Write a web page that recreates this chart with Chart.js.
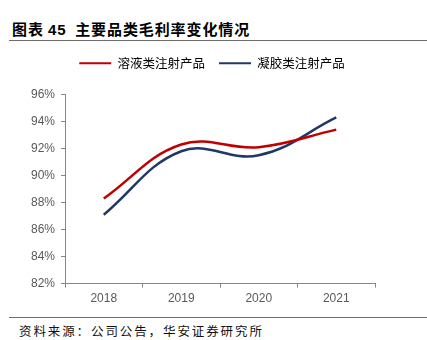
<!DOCTYPE html>
<html>
<head>
<meta charset="utf-8">
<script src="https://cdn.jsdelivr.net/npm/chart.js@4"></script>
<style>
  html, body { margin:0; padding:0; background:#fff; }
  body { width:427px; height:340px; position:relative; overflow:hidden; font-family:"Noto Sans CJK SC", sans-serif; }
  #title { position:absolute; left:12px; top:18px; font-size:15px; font-weight:bold; color:#000; white-space:nowrap; letter-spacing:0.9px; }
  #title .num { font-family:"Liberation Sans", Arial, sans-serif; }
  #rule1 { position:absolute; left:9px; right:0; top:40px; height:0; border-top:1.5px solid #6e6e6e; }
  #rule2 { position:absolute; left:9px; right:0; top:317px; height:0; border-top:1.5px solid #6e6e6e; }
  #foot { position:absolute; left:19px; top:321px; font-size:12.5px; color:#111; white-space:nowrap; letter-spacing:1.9px; }
  #wrap { position:absolute; left:0; top:43px; width:427px; height:267px; }
</style>
</head>
<body>
<div id="title">图表 <span class="num">45</span>&nbsp; 主要品类毛利率变化情况</div>
<div id="rule1"></div>
<div id="wrap"><canvas id="c"></canvas></div>
<div id="rule2"></div>
<div id="foot">资料来源：公司公告，华安证券研究所</div>
<script>
const categories = ["2018", "2019", "2020", "2021"];
const solutionSeries = [88.3, 92.3, 92.1, 93.4];
const gelSeries = [87.1, 91.8, 91.5, 94.3];
const seriesNames = ["溶液类注射产品", "凝胶类注射产品"];
const yTicks = [82, 84, 86, 88, 90, 92, 94, 96];

const legendTweak = {
  id: 'legendTweak',
  beforeInit(chart) {
    const lg = chart.legend;
    if (!lg) return;
    const origFit = lg.fit.bind(lg);
    lg.fit = function () { origFit(); this.height += 15; };
  },
  afterLayout(chart) {
    const lg = chart.legend;
    if (!lg) return;
    const d = 212 - (lg.left + lg.right) / 2;
    lg.left += d; lg.right += d;
    if (lg.legendHitBoxes) lg.legendHitBoxes.forEach(b => { b.left += d; });
  }
};

new Chart(document.getElementById('c'), {
  type: 'line',
  data: {
    labels: categories,
    datasets: [
      { label: seriesNames[0], data: solutionSeries, borderColor: '#c00000', backgroundColor: '#c00000', borderWidth: 2.5, pointRadius: 0, tension: 0.4, fill: false },
      { label: seriesNames[1], data: gelSeries, borderColor: '#203864', backgroundColor: '#203864', borderWidth: 2.5, pointRadius: 0, tension: 0.4, fill: false }
    ]
  },
  plugins: [legendTweak],
  options: {
    responsive: true,
    maintainAspectRatio: false,
    animation: false,
    devicePixelRatio: 1,
    layout: { padding: { left: 25, right: 52, top: 0, bottom: 0 } },
    plugins: {
      legend: {
        position: 'top',
        labels: {
          boxWidth: 32, boxHeight: 2, padding: 14,
          color: '#808080',
          font: { family: '"Noto Sans CJK SC", sans-serif', size: 12.5 },
          generateLabels: (chart) => chart.data.datasets.map((d, i) => ({
            text: d.label, fillStyle: d.borderColor, strokeStyle: d.borderColor, lineWidth: 0, datasetIndex: i, hidden: false
          }))
        }
      },
      tooltip: { enabled: false }
    },
    scales: {
      x: {
        type: 'category',
        offset: true,
        grid: { offset: true, drawOnChartArea: false, drawTicks: true, tickLength: 4, color: '#868686' },
        border: { color: '#868686', width: 1 },
        ticks: { color: '#595959', font: { family: '"Liberation Sans", Arial, sans-serif', size: 12 }, padding: 4 }
      },
      y: {
        min: yTicks[0], max: yTicks[yTicks.length - 1],
        afterBuildTicks: (axis) => { axis.ticks = yTicks.map(v => ({ value: v })); },
        grid: { drawOnChartArea: false, drawTicks: true, tickLength: 4, color: '#868686' },
        border: { color: '#868686', width: 1 },
        ticks: { color: '#595959', font: { family: '"Liberation Sans", Arial, sans-serif', size: 12 }, padding: 6, callback: (v) => v + '%' }
      }
    }
  }
});
</script>
</body>
</html>
